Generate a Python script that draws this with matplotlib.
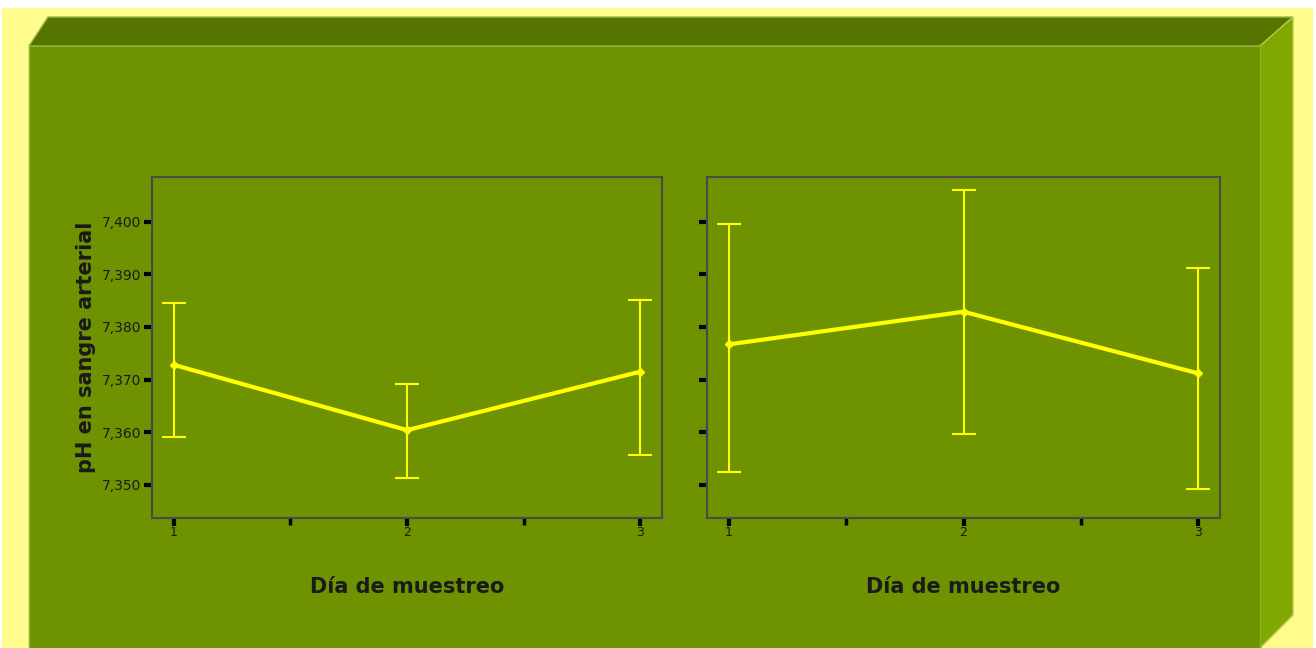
import matplotlib.pyplot as plt
from matplotlib.patches import Polygon, Rectangle
from matplotlib.ticker import FuncFormatter

# data
days = [1, 2, 3]
ph_mean_a = [7.3728, 7.3604, 7.3715]
ph_low_a = [7.3590, 7.3513, 7.3557]
ph_high_a = [7.3846, 7.3692, 7.3851]

ph_mean_b = [7.3767, 7.3829, 7.3712]
ph_low_b = [7.3524, 7.3597, 7.3492]
ph_high_b = [7.3996, 7.4060, 7.3912]

yticks = [7.35, 7.36, 7.37, 7.38, 7.39, 7.40]

W, H = 1316, 648
fig = plt.figure(figsize=(W / 100, H / 100), dpi=100)
fig.patch.set_facecolor('white')

px = lambda x, y: (x / W, 1 - y / H)

# frame + 3d box behind the charts
fig.patches.append(Rectangle(px(2, 648), 1311 / W, 640 / H, transform=fig.transFigure,
                             facecolor='#fffb8c', edgecolor='none', zorder=-5))
fig.patches.append(Polygon([px(29, 46), px(48, 17), px(1293, 17), px(1260, 46)],
                           closed=True, transform=fig.transFigure,
                           facecolor='#557500', edgecolor='#9ab84a', lw=1, zorder=-4))
fig.patches.append(Polygon([px(1260, 46), px(1293, 17), px(1293, 615), px(1260, 648)],
                           closed=True, transform=fig.transFigure,
                           facecolor='#80a800', edgecolor='#b4cc40', lw=1, zorder=-4))
fig.patches.append(Rectangle(px(29, 648), 1231 / W, 602 / H, transform=fig.transFigure,
                             facecolor='#6e9200', edgecolor='#8fae30', lw=1, zorder=-4))

fmt = FuncFormatter(lambda v, p: ('%.3f' % v).replace('.', ','))


def panel(rect, mean, low, high, show_labels):
    ax = fig.add_axes(rect)
    ax.set_facecolor('#6e9200')
    lo = [m - l for m, l in zip(mean, low)]
    hi = [h - m for m, h in zip(mean, high)]
    ax.errorbar(days, mean, yerr=[lo, hi], fmt='none', ecolor='#ffff00',
                elinewidth=1.5, capsize=8.5, capthick=1.5, zorder=2)
    ax.plot(days, mean, color='#ffff00', lw=3, marker='D', ms=4.5, zorder=3)
    ax.set_xlim(0.906, 3.094)
    ax.set_ylim(7.3437, 7.4085)
    ax.set_yticks(yticks)
    ax.yaxis.set_major_formatter(fmt)
    ax.set_xticks(days)
    ax.set_xticks([1.5, 2.5], minor=True)
    ax.set_xticklabels(['1', '2', '3'])
    for s in ax.spines.values():
        s.set_color('#4a4a4a')
        s.set_linewidth(1.5)
    ax.tick_params(axis='y', length=6, width=3, color='black', labelsize=10,
                   labelcolor='#1a1a1a', pad=2, labelleft=show_labels)
    ax.tick_params(axis='x', which='major', length=6, width=3, color='black',
                   labelsize=9, labelcolor='#1a1a1a', pad=0)
    ax.tick_params(axis='x', which='minor', length=5, width=2.5, color='black')
    ax.set_xlabel('Día de muestreo', fontsize=15, fontweight='bold',
                  color='#1a1a1a', labelpad=27)
    return ax


ax1 = panel([152 / W, 1 - 518 / H, 510 / W, 341 / H], ph_mean_a, ph_low_a, ph_high_a, True)
ax1.set_ylabel('pH en sangre arterial', fontsize=15, fontweight='bold',
               color='#1a1a1a', labelpad=4)
ax2 = panel([707 / W, 1 - 518 / H, 513 / W, 341 / H], ph_mean_b, ph_low_b, ph_high_b, False)

fig.savefig('out.png', dpi=100, facecolor=fig.get_facecolor())
